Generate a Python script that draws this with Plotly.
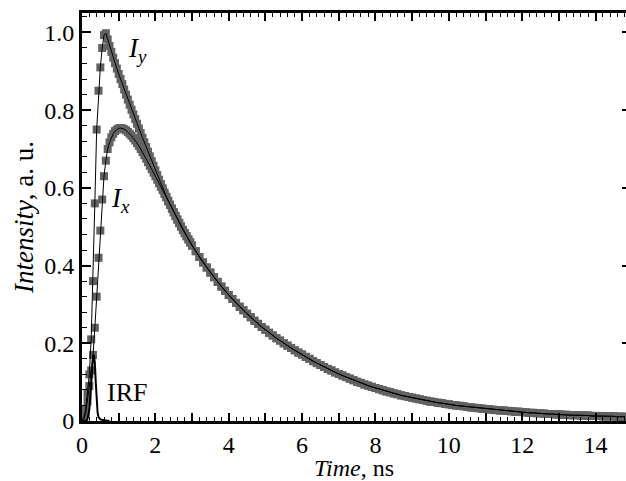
import numpy as np
import plotly.graph_objects as go

# Zeitachse der Messpunkte (ns)
t_early = np.round(np.arange(0, 3.0001, 0.05), 2)
t_tail = np.round(np.arange(3.1, 14.8001, 0.1), 2)

# I_y, Anstieg + Beginn des Abfalls (0 ... 3 ns)
iy_early = [0.0, 0.01, 0.03, 0.07, 0.12, 0.21, 0.36, 0.56, 0.75, 0.85,
            0.91, 0.96, 0.993, 0.998, 0.982, 0.965, 0.95, 0.935, 0.921, 0.907,
            0.893, 0.88, 0.867, 0.853, 0.84, 0.827, 0.814, 0.801, 0.789, 0.777,
            0.765, 0.753, 0.741, 0.729, 0.717, 0.705, 0.693, 0.681, 0.669, 0.657,
            0.645, 0.633, 0.621, 0.61, 0.599, 0.588, 0.577, 0.567, 0.557, 0.547,
            0.537, 0.528, 0.519, 0.51, 0.501, 0.492, 0.484, 0.476, 0.468, 0.46,
            0.452]

# I_x, Anstieg + Beginn des Abfalls (0 ... 3 ns)
ix_early = [0.0, 0.005, 0.02, 0.05, 0.09, 0.13, 0.17, 0.24, 0.32, 0.42,
            0.49, 0.57, 0.63, 0.67, 0.70, 0.717, 0.73, 0.739, 0.746, 0.75,
            0.753, 0.754, 0.753, 0.751, 0.748, 0.744, 0.739, 0.734, 0.728, 0.722,
            0.715, 0.708, 0.70, 0.692, 0.684, 0.675, 0.666, 0.657, 0.648, 0.639,
            0.63, 0.621, 0.612, 0.603, 0.594, 0.584, 0.575, 0.565, 0.556, 0.546,
            0.537, 0.527, 0.518, 0.509, 0.50, 0.491, 0.483, 0.475, 0.467, 0.459,
            0.451]

# gemeinsamer Abfall ab 3.1 ns (beide Kurven fallen zusammen)
tail = [0.437, 0.422, 0.408, 0.395, 0.382, 0.37, 0.358, 0.346, 0.335, 0.324,
        0.314, 0.304, 0.294, 0.285, 0.276, 0.267, 0.258, 0.25, 0.242, 0.235,
        0.227, 0.22, 0.213, 0.207, 0.2, 0.194, 0.188, 0.182, 0.176, 0.171,
        0.165, 0.16, 0.154, 0.149, 0.144, 0.139, 0.134, 0.13, 0.125, 0.121,
        0.117, 0.113, 0.109, 0.105, 0.101, 0.098, 0.094, 0.091, 0.088, 0.085,
        0.082, 0.079, 0.076, 0.074, 0.071, 0.069, 0.066, 0.064, 0.062, 0.06,
        0.058, 0.056, 0.054, 0.052, 0.05, 0.049, 0.047, 0.046, 0.044, 0.043,
        0.041, 0.04, 0.039, 0.038, 0.036, 0.035, 0.034, 0.033, 0.032, 0.031,
        0.03, 0.029, 0.028, 0.027, 0.027, 0.026, 0.025, 0.024, 0.024, 0.023,
        0.022, 0.021, 0.021, 0.02, 0.02, 0.019, 0.018, 0.018, 0.017, 0.017,
        0.016, 0.016, 0.015, 0.015, 0.015, 0.014, 0.014, 0.014, 0.013, 0.013,
        0.013, 0.012, 0.012, 0.012, 0.012, 0.011, 0.011, 0.011]

# Instrumentenantwort (IRF)
t_irf = [0.0, 0.1, 0.15, 0.2, 0.225, 0.25, 0.275, 0.3, 0.325, 0.35,
         0.375, 0.4, 0.425, 0.45, 0.5, 0.6, 0.75]
irf = [0.0, 0.0, 0.005, 0.03, 0.06, 0.10, 0.14, 0.165, 0.17, 0.15,
       0.10, 0.05, 0.022, 0.01, 0.004, 0.002, 0.0]

x_ticks = list(range(0, 15))
x_labels = [str(v) if v % 2 == 0 else "" for v in x_ticks]
y_ticks = [0, 0.2, 0.4, 0.6, 0.8, 1.0]
y_labels = ["0", "0.2", "0.4", "0.6", "0.8", "1.0"]

t = list(t_early) + list(t_tail)
iy = iy_early + tail
ix = ix_early + tail

FONT = "Liberation Serif, Times New Roman, Tinos, serif"
GREY = "#626262"

fig = go.Figure()

# Messpunkte
for y in (ix, iy):
    fig.add_trace(go.Scatter(x=t, y=y, mode="markers",
                             marker=dict(symbol="square", size=8, color=GREY, line=dict(width=0)),
                             showlegend=False))
# Fits
for y in (ix, iy):
    fig.add_trace(go.Scatter(x=t, y=y, mode="lines",
                             line=dict(color="black", width=1), showlegend=False))
# IRF
fig.add_trace(go.Scatter(x=t_irf, y=irf, mode="lines",
                         line=dict(color="black", width=2), showlegend=False))

# rechte Achse nur für die kurzen Striche
fig.add_trace(go.Scatter(x=[None], y=[None], yaxis="y2", showlegend=False))

fig.add_annotation(x=1.2, y=0.955, text="<i>I<sub>y</sub></i>", showarrow=False,
                   xanchor="left", yanchor="middle", font=dict(family=FONT, size=27, color="black"))
fig.add_annotation(x=0.74, y=0.57, text="<i>I<sub>x</sub></i>", showarrow=False,
                   xanchor="left", yanchor="middle", font=dict(family=FONT, size=27, color="black"))
fig.add_annotation(x=0.64, y=0.074, text="IRF", showarrow=False,
                   xanchor="left", yanchor="middle", font=dict(family=FONT, size=26, color="black"))

fig.update_layout(
    width=626, height=481,
    margin=dict(l=82, r=0, t=13, b=60, autoexpand=False),
    plot_bgcolor="white", paper_bgcolor="white",
    font=dict(family=FONT, size=24, color="black"),
    xaxis=dict(range=[0, 14.83], tickvals=x_ticks, ticktext=x_labels,
               ticks="inside", ticklen=8, tickwidth=1.5, tickcolor="black",
               minor=dict(dtick=0.2, ticks="inside", ticklen=4, tickwidth=1.2, tickcolor="black"),
               showline=True, linewidth=2.5, linecolor="black", mirror="ticks",
               showgrid=False, zeroline=False,
               title=dict(text="<i>Time</i>, ns", standoff=0, font=dict(size=24))),
    yaxis=dict(range=[0, 1.05], tickvals=y_ticks, ticktext=y_labels,
               ticks="inside", ticklen=9, tickwidth=1.5, tickcolor="black",
               minor=dict(dtick=0.04, ticks="inside", ticklen=5, tickwidth=1.2, tickcolor="black"),
               showline=True, linewidth=3, linecolor="black",
               showgrid=False, zeroline=False,
               title=dict(text="<i>Intensity</i>, a. u.", standoff=3, font=dict(size=27))),
    yaxis2=dict(range=[0, 1.05], overlaying="y", side="right", tickvals=y_ticks,
                showticklabels=False, ticks="inside", ticklen=4, tickwidth=1.5,
                tickcolor="black", showline=False, showgrid=False, zeroline=False),
)

fig.write_html("out.html", config={"displayModeBar": False},
               post_script="document.body.style.margin='0';")
